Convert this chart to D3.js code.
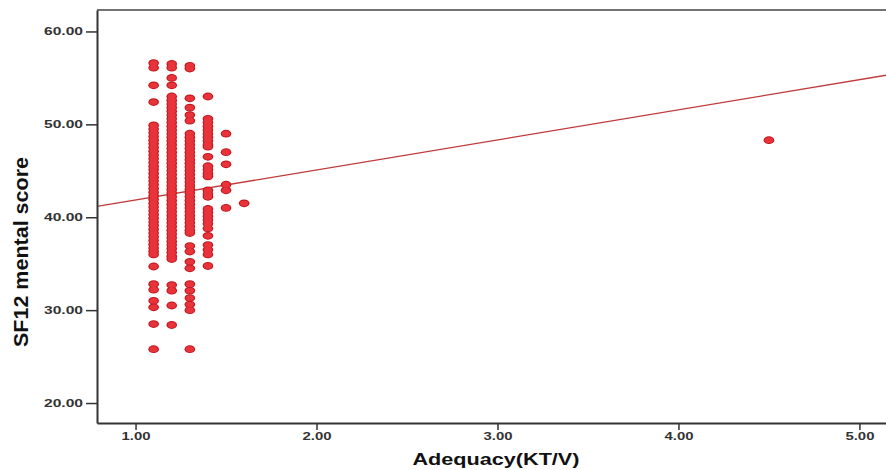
<!DOCTYPE html>
<html>
<head>
<meta charset="utf-8">
<script src="https://cdn.jsdelivr.net/npm/d3@7"></script>
<style>
  body { margin:0; background:#fff; }
  svg { display:block; }
</style>
</head>
<body>
<svg></svg>
<script>
// Adequacy (KT/V) columns and the SF12 mental scores
var ktvLevels = [1.1, 1.2, 1.3, 1.4, 1.5, 1.6, 4.5];

var sf12At11 = [56.6, 56.1, 54.2, 52.4, 49.9, 49.5, 49.1, 48.7, 48.3, 47.9, 47.5, 47.1, 46.7, 46.3,
  45.9, 45.5, 45.1, 44.7, 44.3, 43.9, 43.5, 43.1, 42.7, 42.3, 41.9, 41.5, 41.1, 40.7, 40.3, 39.9,
  39.5, 39.1, 38.7, 38.3, 37.9, 37.5, 37.1, 36.7, 36.3, 36.0, 34.7, 32.8, 32.2, 31.0, 30.3, 28.5, 25.8];
var sf12At12 = [56.5, 56.1, 55.0, 54.2, 53.0, 52.6, 52.2, 51.8, 51.4, 51.0, 50.6, 50.2, 49.8, 49.4,
  49.0, 48.6, 48.2, 47.8, 47.4, 47.0, 46.6, 46.2, 45.8, 45.4, 45.0, 44.6, 44.2, 43.8, 43.4, 43.0,
  42.6, 42.2, 41.8, 41.4, 41.0, 40.6, 40.2, 39.8, 39.4, 39.0, 38.6, 38.2, 37.8, 37.4, 37.0, 36.6,
  36.2, 35.8, 35.5, 32.7, 32.1, 30.5, 28.4];
var sf12At13 = [56.3, 56.0, 52.8, 51.8, 51.0, 50.4, 49.0, 48.6, 48.2, 47.8, 47.4, 47.0, 46.6, 46.2,
  45.8, 45.4, 45.0, 44.6, 44.2, 43.8, 43.4, 43.0, 42.6, 42.2, 41.8, 41.4, 41.0, 40.6, 40.2, 39.8,
  39.4, 39.0, 38.6, 38.3, 36.9, 36.3, 35.2, 34.5, 32.8, 32.1, 31.3, 30.6, 30.0, 25.8];
var sf12At14 = [53.0, 50.6, 50.2, 49.8, 49.4, 49.0, 48.6, 48.2, 47.8, 47.6, 46.5, 45.5, 45.1, 44.7,
  44.4, 42.9, 42.5, 42.2, 40.9, 40.5, 40.1, 39.7, 39.3, 38.8, 38.0, 37.0, 36.5, 36.0, 34.75];
var sf12At15 = [49.0, 47.0, 45.7, 43.5, 42.9, 41.0];
var sf12At16 = [41.5];
var sf12At45 = [48.3];

var sf12Columns = [sf12At11, sf12At12, sf12At13, sf12At14, sf12At15, sf12At16, sf12At45];

// fitted regression line, end points at the frame edges
var fitX = [0.787, 5.18];
var fitY = [41.16, 55.39];

var xTicks = [1, 2, 3, 4, 5];
var yTicks = [20, 30, 40, 50, 60];

var screen = {width:886, height:470};

var plot = {left:97, right:892, top:10, bottom:423};

var xScale = d3.scaleLinear()
              .domain([0.787, 5.18])
              .range([plot.left, plot.right]);

var yScale = d3.scaleLinear()
              .domain([17.85, 62.31])
              .range([plot.bottom, plot.top]);

var svg = d3.select("svg")
            .attr("width", screen.width)
            .attr("height", screen.height);

var points = [];
ktvLevels.forEach(function(k, i){
  sf12Columns[i].forEach(function(v){ points.push({ktv:k, sf12:v}); });
});

// frame top line
svg.append("line")
   .attr("x1", plot.left).attr("x2", plot.right)
   .attr("y1", plot.top).attr("y2", plot.top)
   .attr("stroke", "#444").attr("stroke-width", 1.5);

// regression line
svg.append("path")
   .datum([0, 1])
   .attr("d", d3.line()
      .x(function(i){ return xScale(fitX[i]); })
      .y(function(i){ return yScale(fitY[i]); }))
   .attr("fill", "none")
   .attr("stroke", "#bf3a3a")
   .attr("stroke-width", 1.3);

// points: dark outline layer under a red fill layer, so stacked markers merge
var outline = svg.append("g");
var fill = svg.append("g");

outline.selectAll("ellipse")
   .data(points)
   .enter()
   .append("ellipse")
   .attr("cx", function(d){ return xScale(d.ktv); })
   .attr("cy", function(d){ return yScale(d.sf12); })
   .attr("rx", 5.3)
   .attr("ry", 3.9)
   .attr("fill", "#c0141c");

fill.selectAll("ellipse")
   .data(points)
   .enter()
   .append("ellipse")
   .attr("cx", function(d){ return xScale(d.ktv); })
   .attr("cy", function(d){ return yScale(d.sf12); })
   .attr("rx", 4.2)
   .attr("ry", 2.9)
   .attr("fill", "#e8333b");

// axes
var xAxis = svg.append("g")
   .attr("transform", "translate(0," + plot.bottom + ")")
   .call(d3.axisBottom(xScale).tickValues(xTicks).tickSize(7).tickSizeOuter(0)
        .tickPadding(3).tickFormat(d3.format(".2f")));

var yAxis = svg.append("g")
   .attr("transform", "translate(" + plot.left + ",0)")
   .call(d3.axisLeft(yScale).tickValues(yTicks).tickSize(11).tickSizeOuter(0)
        .tickPadding(3).tickFormat(d3.format(".2f")));

[xAxis, yAxis].forEach(function(ax){
  ax.select(".domain").attr("stroke", "#333").attr("stroke-width", 2);
  ax.selectAll(".tick line").attr("stroke", "#333").attr("stroke-width", 1.5);
  ax.selectAll(".tick text")
    .attr("fill", "#333")
    .attr("font-family", "Liberation Sans, Arial, sans-serif")
    .attr("font-weight", "bold")
    .attr("font-size", 10.5)
    .attr("lengthAdjust", "spacingAndGlyphs");
});
xAxis.selectAll(".tick text").attr("textLength", 29);
yAxis.selectAll(".tick text").attr("textLength", 39);

// axis titles
svg.append("text")
   .attr("x", 496)
   .attr("y", 465)
   .attr("text-anchor", "middle")
   .attr("font-family", "Liberation Sans, Arial, sans-serif")
   .attr("font-weight", "bold")
   .attr("font-size", 16)
   .attr("textLength", 167)
   .attr("lengthAdjust", "spacingAndGlyphs")
   .attr("fill", "#111")
   .text("Adequacy(KT/V)");

svg.append("text")
   .attr("transform", "translate(28,252) scale(1.3,1) rotate(-90)")
   .attr("text-anchor", "middle")
   .attr("font-family", "Liberation Sans, Arial, sans-serif")
   .attr("font-weight", "bold")
   .attr("font-size", 15)
   .attr("textLength", 190)
   .attr("lengthAdjust", "spacingAndGlyphs")
   .attr("fill", "#111")
   .text("SF12 mental score");
</script>
</body>
</html>
